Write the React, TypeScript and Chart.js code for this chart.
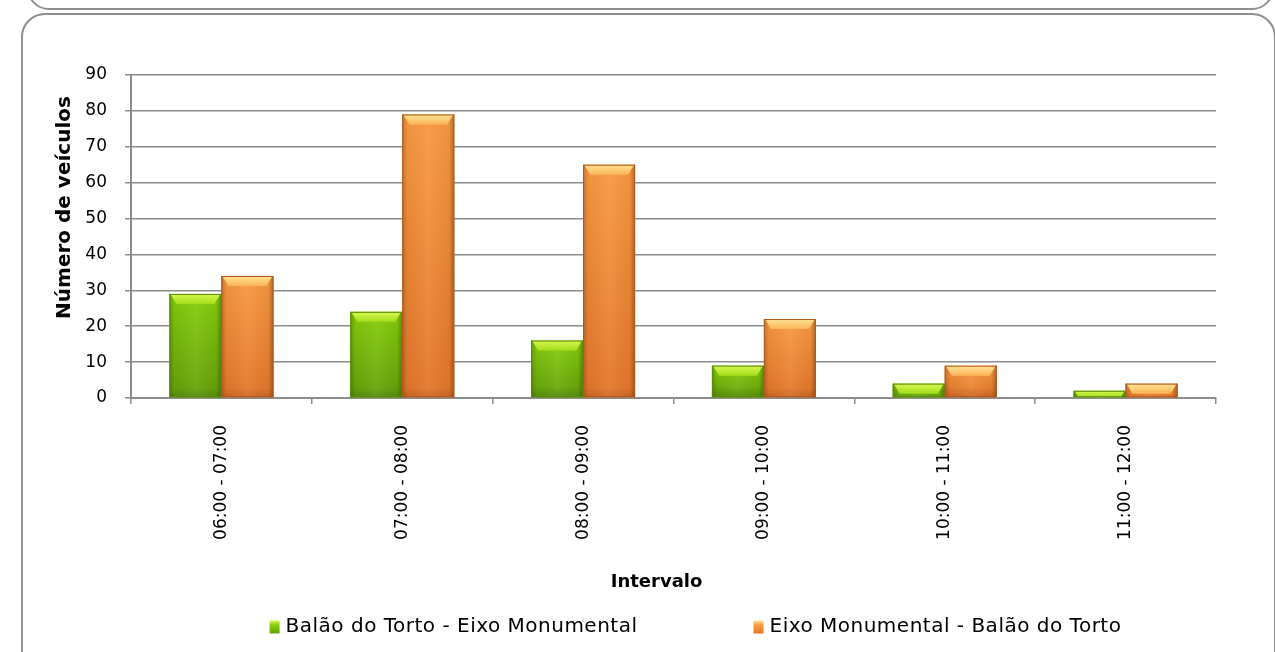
import React, { useEffect, useRef } from "react";
import { Chart, registerables } from "chart.js";

Chart.register(...registerables);

// ---- data ----
const categories = [
  "06:00 - 07:00",
  "07:00 - 08:00",
  "08:00 - 09:00",
  "09:00 - 10:00",
  "10:00 - 11:00",
  "11:00 - 12:00",
];
const seriesNames = [
  "Balão do Torto - Eixo Monumental",
  "Eixo Monumental - Balão do Torto",
];
const balaoParaEixo = [29, 24, 16, 9, 4, 2];
const eixoParaBalao = [34, 79, 65, 22, 9, 4];
const yMin = 0;
const yMax = 90;
const yStep = 10;
const yAxisTitle = "Número de veículos";
const xAxisTitle = "Intervalo";

// ---- styles ----
const FONT = '"DejaVu Sans", sans-serif';
const GRID = "#8c8c8c";
const palettes = [
  {
    band: ["#d8f850", "#a4dc1a"],
    body: ["#88ce0c", "#64a00a"],
    border: "#5a8a0e",
    solid: "#7cc00a",
  },
  {
    band: ["#ffe496", "#fbb458"],
    body: ["#f99a42", "#e4762a"],
    border: "#b0581c",
    solid: "#f38b38",
  },
];

const bevelPlugin = {
  id: "bevel",
  afterDatasetsDraw(chart: any) {
    const ctx = chart.ctx;
    chart.data.datasets.forEach((_ds: any, di: number) => {
      const meta = chart.getDatasetMeta(di);
      const pal = palettes[di];
      meta.data.forEach((bar: any) => {
        const { x, y, base, width } = bar.getProps(["x", "y", "base", "width"], true);
        const left = x - width / 2;
        const top = Math.min(y, base);
        const h = Math.abs(base - y);
        if (h <= 0) return;
        ctx.save();
        const g = ctx.createLinearGradient(0, top, 0, top + h);
        g.addColorStop(0, pal.body[0]);
        g.addColorStop(1, pal.body[1]);
        ctx.fillStyle = g;
        ctx.fillRect(left, top, width, h);
        const sg = ctx.createLinearGradient(left, 0, left + width, 0);
        sg.addColorStop(0, "rgba(0,0,0,0.22)");
        sg.addColorStop(0.1, "rgba(0,0,0,0.04)");
        sg.addColorStop(0.5, "rgba(255,255,255,0.06)");
        sg.addColorStop(0.9, "rgba(0,0,0,0.04)");
        sg.addColorStop(1, "rgba(0,0,0,0.3)");
        ctx.fillStyle = sg;
        ctx.fillRect(left, top, width, h);
        // top bevel
        const bh = Math.min(h, 10);
        const inset = Math.min(6, bh * 0.6);
        const bg = ctx.createLinearGradient(0, top, 0, top + bh);
        bg.addColorStop(0, pal.band[0]);
        bg.addColorStop(1, pal.band[1]);
        ctx.fillStyle = bg;
        ctx.beginPath();
        ctx.moveTo(left + 1, top);
        ctx.lineTo(left + width - 1, top);
        ctx.lineTo(left + width - 1 - inset, top + bh);
        ctx.lineTo(left + 1 + inset, top + bh);
        ctx.closePath();
        ctx.fill();
        // bottom shading
        if (h > 20) {
          const bb = 10;
          const dg = ctx.createLinearGradient(0, top + h - bb, 0, top + h);
          dg.addColorStop(0, "rgba(0,0,0,0)");
          dg.addColorStop(1, "rgba(0,0,0,0.12)");
          ctx.fillStyle = dg;
          ctx.fillRect(left, top + h - bb, width, bb);
        }
        ctx.strokeStyle = pal.border;
        ctx.lineWidth = 1;
        ctx.strokeRect(left + 0.5, top + 0.5, width - 1, h - 1);
        ctx.restore();
      });
    });
  },
};

const textPlugin = {
  id: "customText",
  afterDraw(chart: any) {
    const ctx = chart.ctx;
    const ca = chart.chartArea;
    ctx.save();
    ctx.fillStyle = "#000";
    // y-axis title
    ctx.save();
    ctx.font = `bold 20px ${FONT}`;
    ctx.textAlign = "center";
    ctx.textBaseline = "middle";
    ctx.translate(ca.left - 66, (ca.top + ca.bottom) / 2 - 29);
    ctx.rotate(-Math.PI / 2);
    ctx.fillText(yAxisTitle, 0, 0);
    ctx.restore();
    // x-axis title
    ctx.font = `bold 18px ${FONT}`;
    ctx.textAlign = "center";
    ctx.textBaseline = "middle";
    ctx.fillText(xAxisTitle, (ca.left + ca.right) / 2 - 17, ca.bottom + 184);
    // legend
    ctx.font = `20px ${FONT}`;
    (ctx as any).letterSpacing = "0.5px";
    ctx.textBaseline = "middle";
    ctx.textAlign = "left";
    const gap = 116;
    const boxW = 10;
    const boxH = 13;
    const textGap = 6;
    const widths = seriesNames.map((n) => boxW + textGap + ctx.measureText(n).width);
    const total = widths[0] + gap + widths[1];
    let x = (ca.left + ca.right) / 2 + 22 - total / 2;
    const yc = chart.height - 25;
    seriesNames.forEach((name, i) => {
      const pal = palettes[i];
      const g = ctx.createLinearGradient(0, yc - boxH / 2, 0, yc + boxH / 2);
      g.addColorStop(0, pal.band[0]);
      g.addColorStop(0.35, pal.body[0]);
      g.addColorStop(1, pal.body[1]);
      ctx.fillStyle = g;
      ctx.fillRect(x, yc - boxH / 2, boxW, boxH);
      ctx.fillStyle = "#000";
      ctx.fillText(name, x + boxW + textGap, yc);
      x += widths[i] + gap;
    });
    ctx.restore();
  },
};

export default function App() {
  const ref = useRef<HTMLCanvasElement | null>(null);

  useEffect(() => {
    if (!ref.current) return;
    const chart = new Chart(ref.current, {
      type: "bar",
      data: {
        labels: categories,
        datasets: [
          {
            label: seriesNames[0],
            data: balaoParaEixo,
            backgroundColor: palettes[0].solid,
            borderWidth: 0,
            categoryPercentage: 0.575,
            barPercentage: 1,
          },
          {
            label: seriesNames[1],
            data: eixoParaBalao,
            backgroundColor: palettes[1].solid,
            borderWidth: 0,
            categoryPercentage: 0.575,
            barPercentage: 1,
          },
        ],
      },
      options: {
        animation: false,
        responsive: true,
        maintainAspectRatio: false,
        layout: { padding: { top: 75, left: 0, right: 59, bottom: 50 } },
        plugins: {
          legend: { display: false },
          tooltip: { enabled: false },
        },
        scales: {
          x: {
            afterFit: (s: any) => {
              s.height = 204;
            },
            grid: {
              display: true,
              drawOnChartArea: false,
              drawTicks: true,
              tickLength: 6,
              color: GRID,
              lineWidth: 1.5,
            },
            border: { display: true, color: GRID, width: 2 },
            ticks: {
              color: "#000",
              font: { family: FONT, size: 17 },
              minRotation: 90,
              maxRotation: 90,
              autoSkip: false,
              padding: 21,
            },
            title: { display: false, text: xAxisTitle },
          },
          y: {
            min: yMin,
            max: yMax,
            afterFit: (s: any) => {
              s.width = 131;
            },
            grid: {
              color: GRID,
              lineWidth: 1.5,
              drawTicks: true,
              tickLength: 6,
            },
            border: { display: true, color: GRID, width: 2 },
            ticks: {
              stepSize: yStep,
              color: "#000",
              font: { family: FONT, size: 17 },
              padding: 18,
            },
            title: { display: false, text: yAxisTitle },
          },
        },
      },
      plugins: [bevelPlugin, textPlugin],
    });
    return () => chart.destroy();
  }, []);

  const panelBorder = "2px solid #8e8e8e";
  return (
    <div
      style={{
        position: "fixed",
        left: 0,
        top: 0,
        width: 1275,
        height: 652,
        overflow: "hidden",
        background: "#fff",
      }}
    >
      <div
        style={{
          position: "absolute",
          left: 27,
          top: -40,
          width: 1243,
          height: 46,
          border: panelBorder,
          borderRadius: 22,
        }}
      />
      <div
        style={{
          position: "absolute",
          left: 21,
          top: 13,
          width: 1251,
          height: 670,
          border: panelBorder,
          borderRadius: 24,
        }}
      />
      <div style={{ position: "absolute", left: 0, top: 0, width: 1275, height: 652 }}>
        <canvas ref={ref} />
      </div>
    </div>
  );
}
